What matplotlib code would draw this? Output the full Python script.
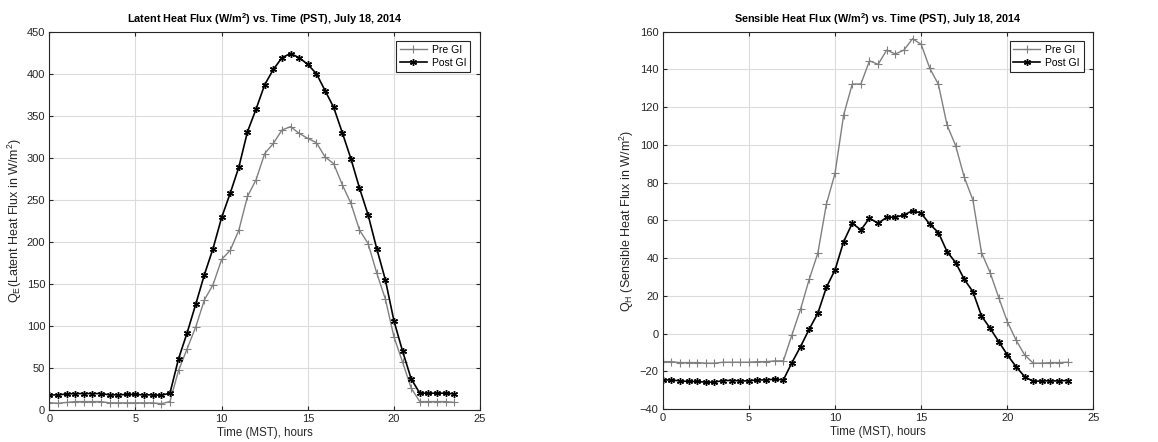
import numpy as np
import matplotlib
matplotlib.use('Agg')
import matplotlib.pyplot as plt

plt.rcParams['font.family'] = ['Liberation Sans', 'DejaVu Sans']
plt.rcParams['mathtext.default'] = 'regular'
plt.rcParams['font.size'] = 8

# time in hours, every half hour
hours = [i * 0.5 for i in range(48)]

latent_pre = [8.7, 8, 9, 10, 10, 10, 10, 8.5, 8.5, 8.5, 8.5, 8.5, 8.5, 7.5, 10,
              47, 73, 99, 131, 149, 179, 190, 214, 254, 274, 305, 317, 333, 337,
              329, 323, 318, 301, 293, 268, 246, 214, 198, 163, 132, 87, 57, 26,
              10, 10, 10, 10, 9]
latent_post = [17.8, 18, 19, 19.5, 19.5, 19.5, 19.5, 18, 18, 18.5, 18.5, 18, 18, 17.5, 20,
               61, 92, 126, 161, 192, 229, 258, 289, 331, 358, 387, 405, 419, 424,
               419, 411, 400, 380, 360, 330, 299, 264, 232, 192, 155, 106, 70, 37,
               20, 20, 20, 20, 19]

sens_pre = [-14.8, -14.8, -15.3, -15.3, -15.3, -15.6, -15.6, -15.1, -15.1, -15.1, -15.1,
            -14.8, -14.8, -14.4, -14.4, -0.6, 13, 28.8, 42.6, 68.7, 85, 115.9, 132.3,
            132.3, 144.6, 142.7, 150.3, 148.2, 150.3, 156.3, 153.3, 140.6, 132.1, 110.6,
            99.6, 82.9, 70.9, 43, 32.4, 19.1, 6.4, -3.3, -11.2, -15.6, -15.6, -15.3,
            -15.3, -15.1]
sens_post = [-24.5, -24.5, -25, -25.3, -25.3, -25.7, -25.7, -24.8, -24.8, -25, -25,
             -24.5, -24.5, -24.1, -24.5, -15.3, -6.8, 2.4, 10.8, 24.6, 33.8, 48.8, 58.5,
             55, 61.2, 58.5, 61.7, 61.7, 62.9, 65.2, 63.8, 58, 53.6, 43.5, 37.7, 28.8,
             22.3, 9.4, 2.9, -4.2, -11.2, -17.4, -22.7, -25.3, -25, -25, -25, -24.8]

asterisk = (6, 2, 0)

fig = plt.figure(figsize=(11.58, 4.42), dpi=100)
ax1 = fig.add_axes([0.0426, 0.0724, 0.372, 0.856])
ax2 = fig.add_axes([0.5723, 0.0742, 0.372, 0.854])


def style(ax, ylim, yticks):
    ax.set_xlim(0, 25)
    ax.set_ylim(*ylim)
    ax.set_xticks([0, 5, 10, 15, 20, 25])
    ax.set_yticks(yticks)
    ax.grid(True, color='#dcdcdc', linewidth=0.8)
    ax.set_axisbelow(True)
    ax.tick_params(direction='in', length=3, colors='#262626', labelsize=8, pad=3,
                   top=True, right=True)
    for s in ax.spines.values():
        s.set_color('#262626')
        s.set_linewidth(0.8)
    ax.set_xlabel('Time (MST), hours', fontsize=8.3, labelpad=2, color='#262626')


ax1.plot(hours, latent_pre, color='#808080', marker='+', markersize=6,
         markeredgewidth=0.8, linewidth=1, label='Pre GI')
ax1.plot(hours, latent_post, color='black', marker=asterisk, markersize=5,
         markeredgewidth=1.0, linewidth=1.2, label='Post GI')
style(ax1, (0, 450), range(0, 451, 50))
ax1.set_ylabel('Q$_E$(Latent Heat Flux in W/m$^2$)', fontsize=9, labelpad=2, color='#262626')
ax1.set_title('Latent Heat Flux (W/m$^2$) vs. Time (PST), July 18, 2014',
              fontsize=7.8, fontweight='bold', pad=6)

ax2.plot(hours, sens_pre, color='#808080', marker='+', markersize=6,
         markeredgewidth=0.8, linewidth=1, label='Pre GI')
ax2.plot(hours, sens_post, color='black', marker=asterisk, markersize=5,
         markeredgewidth=1.0, linewidth=1.2, label='Post GI')
style(ax2, (-40, 160), range(-40, 161, 20))
ax2.set_ylabel('Q$_H$ (Sensible Heat Flux in W/m$^2$)', fontsize=9, labelpad=3, color='#262626')
ax2.set_title('Sensible Heat Flux (W/m$^2$) vs. Time (PST), July 18, 2014',
              fontsize=7.8, fontweight='bold', pad=6)

for ax in (ax1, ax2):
    leg = ax.legend(loc='upper right', fontsize=7.5, fancybox=False, framealpha=1,
                    borderpad=0.35, handlelength=2.6, handletextpad=0.5,
                    labelspacing=0.3, borderaxespad=0,
                    bbox_to_anchor=(0.977, 0.975))
    leg.get_frame().set_edgecolor('#262626')
    leg.get_frame().set_linewidth(0.8)

fig.savefig('out.png', dpi=100)
